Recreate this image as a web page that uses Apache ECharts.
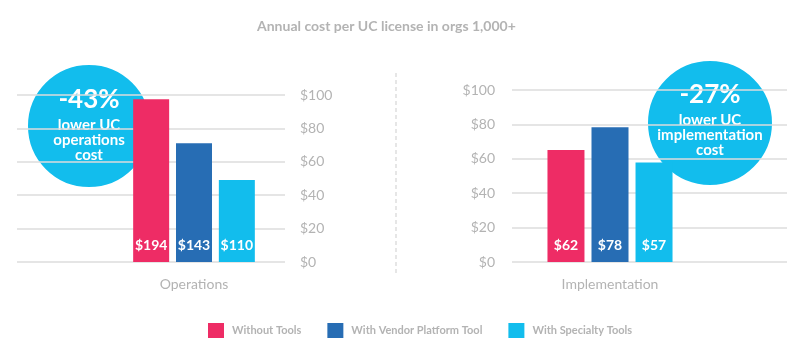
<!DOCTYPE html>
<html>
<head>
<meta charset="utf-8">
<script src="https://cdn.jsdelivr.net/npm/echarts@6/dist/echarts.min.js"></script>
<style>
html,body{margin:0;padding:0;background:#fff;}
#chart{width:800px;height:349px;}
</style>
</head>
<body>
<div id="chart"></div>
<script>
var seriesNames = ['Without Tools', 'With Vendor Platform Tool', 'With Specialty Tools'];
var colors = ['#EE2C65', '#276DB4', '#12BDED'];
var panelCategories = ['Operations', 'Implementation'];
var opsValues = [97.4, 71.1, 49.1];
var opsLabels = ['$194', '$143', '$110'];
var implValues = [65.1, 78.3, 57.9];
var implLabels = ['$62', '$78', '$57'];
var yTicks = [0, 20, 40, 60, 80, 100];
var titleText = 'Annual cost per UC license in orgs 1,000+';
var opsCallout = ['-43%', 'lower UC', 'operations', 'cost'];
var implCallout = ['-27%', 'lower UC', 'implementation', 'cost'];

var FONT = 'Lato, "Noto Sans", sans-serif';
var GRAY = '#b3b3b3';

function valueAxis(grid, pos, show, margin) {
  return {
    type: 'value', gridIndex: grid, position: pos,
    min: yTicks[0], max: yTicks[yTicks.length - 1], interval: yTicks[1] - yTicks[0],
    show: true,
    axisLine: {show: false}, axisTick: {show: false},
    axisLabel: {show: show, color: GRAY, fontFamily: FONT, fontSize: 14, margin: margin,
      formatter: function (v) { return '$' + v; }},
    splitLine: {show: show, lineStyle: {color: '#dcdcdc', width: 1.5}}
  };
}
function catAxis(grid, data, show) {
  return {
    type: 'category', gridIndex: grid, data: data,
    axisLine: {show: false}, axisTick: {show: false},
    axisLabel: {show: show, color: GRAY, fontFamily: FONT, fontSize: 14, margin: 15},
    splitLine: {show: false}
  };
}

var series = [];
function addBars(values, labels, xi, yi, bw) {
  values.forEach(function (v, i) {
    series.push({
      type: 'bar', name: seriesNames[i], xAxisIndex: xi, yAxisIndex: yi,
      data: [v], barWidth: bw, barGap: '19%',
      itemStyle: {color: colors[i]},
      label: {show: true, position: 'insideBottom', distance: 10, color: '#fff',
        fontFamily: FONT, fontWeight: 'bold', fontSize: 14,
        formatter: function () { return labels[i]; }}
    });
  });
}
addBars(opsValues, opsLabels, 1, 1, 36);
addBars(implValues, implLabels, 3, 3, 37);

function callout(cx, cy, r, lines, topY) {
  var children = [{
    type: 'circle', shape: {cx: cx, cy: cy, r: r},
    style: {fill: '#12BDED', stroke: '#fff', lineWidth: 2}
  }];
  lines.forEach(function (t, i) {
    children.push({
      type: 'text', x: cx, y: topY[i],
      style: {text: t, fill: '#fff', fontFamily: FONT, fontWeight: 'bold',
        fontSize: i === 0 ? 26 : 15, align: 'center', verticalAlign: 'middle'}
    });
  });
  return {type: 'group', z: 100, children: children};
}

var option = {
  animation: false,
  backgroundColor: '#fff',
  title: {text: titleText, left: 252, top: 14,
    textStyle: {color: GRAY, fontFamily: FONT, fontSize: 14, fontWeight: 'bold'}},
  legend: {
    data: seriesNames, left: 203, top: 318, itemWidth: 16, itemHeight: 15, itemGap: 26,
    icon: 'rect',
    textStyle: {color: GRAY, fontFamily: FONT, fontSize: 11, fontWeight: 'bold', padding: [0, 0, 0, 3]}
  },
  grid: [
    {left: 17, top: 95, width: 268, height: 167},
    {left: 103, top: 95, width: 182, height: 167},
    {left: 512, top: 90, width: 275, height: 172},
    {left: 512, top: 90, width: 196, height: 172}
  ],
  xAxis: [
    catAxis(0, [''], false),
    catAxis(1, [panelCategories[0]], true),
    catAxis(2, [''], false),
    catAxis(3, [panelCategories[1]], true)
  ],
  yAxis: [
    valueAxis(0, 'right', true, 15),
    valueAxis(1, 'right', false, 15),
    valueAxis(2, 'left', true, 17),
    valueAxis(3, 'left', false, 17)
  ],
  series: series,
  graphic: [
    {type: 'line', z: 5, shape: {x1: 396, y1: 73, x2: 396, y2: 273},
      style: {stroke: '#dedede', lineWidth: 1.5, lineDash: [4, 3]}},
    callout(89, 126, 62, opsCallout, [100, 125, 140, 155]),
    callout(710, 123, 63, implCallout, [95, 120, 135, 150])
  ]
};
var chart = echarts.init(document.getElementById('chart'), null, {renderer: 'canvas'});
chart.setOption(option);
</script>
</body>
</html>
